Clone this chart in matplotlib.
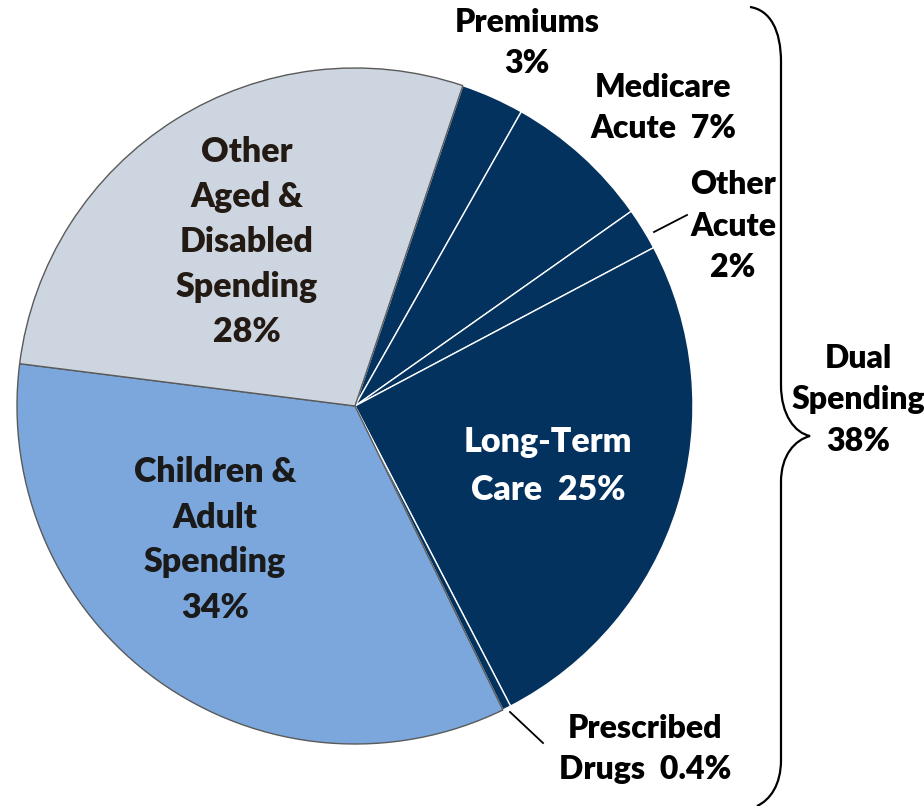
import matplotlib.pyplot as plt
from matplotlib.path import Path
from matplotlib.patches import PathPatch

# spending shares, clockwise from the top
segments = ["Premiums", "Medicare Acute", "Other Acute", "Long-Term Care",
            "Prescribed Drugs", "Children & Adult Spending",
            "Other Aged & Disabled Spending"]
shares = [3, 7, 2, 25, 0.4, 34, 28]
dual_total = 38

navy = "#03325f"
colors = [navy, navy, navy, navy, navy, "#7ba7dc", "#cdd6e0"]

W, H = 924, 806
fig = plt.figure(figsize=(W / 100, H / 100), dpi=100)
ax = fig.add_axes([0, 0, 1, 1])

def py(y):
    # screen-style y (from top) to axis y
    return H - y

cx, cy, r = 355, py(406), 338
wedges, _ = ax.pie(shares, colors=colors, startangle=71.4, counterclock=False,
                   center=(cx, cy), radius=r, frame=True)
for w, c in zip(wedges, colors):
    if c == navy:
        w.set_edgecolor("white")
        w.set_linewidth(1.0)
    else:
        w.set_edgecolor("#5a5a5a")
        w.set_linewidth(1.0)

ax.set_xlim(0, W)
ax.set_ylim(0, H)
ax.set_aspect("equal")
ax.axis("off")

font = ["Lato", "DejaVu Sans"]
big = dict(fontsize=24.5, fontweight="heavy", family=font, ha="center",
           va="center", linespacing=1.5)
small = dict(fontsize=23, fontweight="heavy", family=font, ha="center",
             va="center", linespacing=1.52)

ax.text(247, py(242), "Other\nAged &\nDisabled\nSpending\n%d%%" % shares[6],
        color="#231a14", **big)
ax.text(215, py(540), "Children &\nAdult\nSpending\n%d%%" % shares[5],
        color="#1a1a1a", **big)
ax.text(548, py(466), "Long-Term\nCare  %d%%" % shares[3], color="white",
        **dict(big, linespacing=1.6))

ax.text(527, py(43), "Premiums\n%d%%" % shares[0], color="black", **small)
ax.text(663, py(108), "Medicare\nAcute  %d%%" % shares[1], color="black", **small)
ax.text(733, py(226), "Other\nAcute\n%d%%" % shares[2], color="black", **small)
ax.text(645, py(749), "Prescribed\nDrugs  %.1f%%" % shares[4], color="black", **small)
ax.text(858, py(400), "Dual\nSpending\n%d%%" % dual_total, color="black", **small)

# leader lines for the thin slices
ax.plot([654, 687], [py(232), py(215)], color="black", lw=1.3)
ax.plot([510, 543], [py(712), py(743)], color="black", lw=1.3)

# curly brace grouping the dual-eligible slices
verts = [
    (750, py(7)),
    (770, py(10)), (781, py(30)), (781, py(62)),
    (781, py(385)),
    (781, py(415)), (795, py(433)), (810, py(436)),
    (795, py(440)), (781, py(455)), (781, py(482)),
    (781, py(760)),
    (781, py(785)), (770, py(800)), (757, py(806)),
]
codes = [Path.MOVETO,
         Path.CURVE4, Path.CURVE4, Path.CURVE4,
         Path.LINETO,
         Path.CURVE4, Path.CURVE4, Path.CURVE4,
         Path.CURVE4, Path.CURVE4, Path.CURVE4,
         Path.LINETO,
         Path.CURVE4, Path.CURVE4, Path.CURVE4]
ax.add_patch(PathPatch(Path(verts, codes), fill=False, lw=1.6,
                       edgecolor="black", clip_on=False))

fig.savefig("out.png", dpi=100, facecolor="white")
